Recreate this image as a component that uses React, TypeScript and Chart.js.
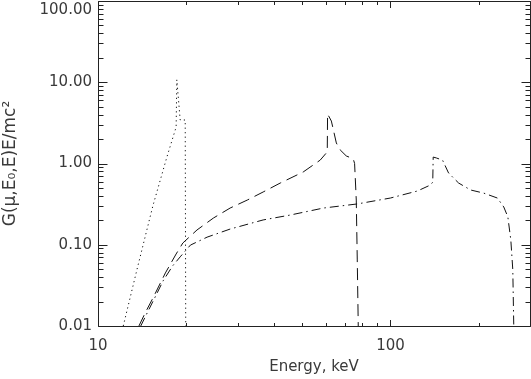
import React, { useEffect, useRef } from "react";
import { Chart, registerables } from "chart.js";

Chart.register(...registerables);

// ---- axis ranges & ticks ----
const X_MIN = 10;
const X_MAX = 300;
const Y_MIN = 0.01;
const Y_MAX = 100;
const X_TICKS = [10, 20, 30, 40, 50, 60, 70, 80, 90, 100, 200, 300];
const X_MAJOR = [10, 100];
const X_LABELS = ["10", "100"];
const Y_MAJOR = [0.01, 0.1, 1, 10, 100];
const Y_LABELS = ["0.01", "0.10", "1.00", "10.00", "100.00"];
const Y_MINOR_MULT = [2, 3, 4, 5, 6, 7, 8, 9];

const X_TITLE = "Energy, keV";
const Y_TITLE = "G(μ,E₀,E)E/mc²";

// ---- series (energy keV, G E/mc^2) ----
const DOTTED_E = [12.2, 13.6, 15.4, 17.2, 18.5, 18.6, 19.1, 19.87, 19.95];
const DOTTED_G = [0.01, 0.05, 0.3, 1.2, 2.81, 10.7, 3.43, 3.43, 0.01];

const DASHED_E = [13.8, 14.5, 15.5, 17.0, 18.5, 19.5, 21.8, 24.8, 28.3, 32.4, 36.7, 42.0, 50.3, 57.5, 60.8, 60.95, 62.8, 65.3, 67.3, 70.6, 74.6, 75.4, 76.4, 77.0, 77.6];
const DASHED_G = [0.01, 0.0145, 0.023, 0.045, 0.077, 0.105, 0.152, 0.213, 0.283, 0.355, 0.446, 0.575, 0.786, 1.1, 1.39, 4.07, 3.33, 1.79, 1.47, 1.24, 1.14, 1.0, 0.355, 0.065, 0.01];

const DASHDOT_E = [14.0, 14.8, 15.8, 16.7, 18.0, 19.1, 20.7, 23.6, 28.3, 36.7, 45.4, 59.0, 77.1, 100, 123.7, 137, 139.5, 140, 143.5, 150.7, 158, 171, 188, 208, 232, 244, 252, 258, 262, 264];
const DASHDOT_G = [0.01, 0.015, 0.024, 0.036, 0.055, 0.071, 0.099, 0.124, 0.156, 0.202, 0.232, 0.283, 0.318, 0.376, 0.459, 0.544, 0.59, 1.2, 1.17, 1.1, 0.764, 0.575, 0.472, 0.433, 0.376, 0.292, 0.22, 0.114, 0.049, 0.01];

const TEXT_COLOR = "#3a3a3a";
const AXIS_COLOR = "#222222";
const FONT_FAMILY = "'DejaVu Sans', sans-serif";

const near = (a: number, b: number) => Math.abs(a - b) <= Math.abs(b) * 1e-6;

function yTickValues(): number[] {
  const out: number[] = [];
  for (let i = 0; i < Y_MAJOR.length; i++) {
    out.push(Y_MAJOR[i]);
    if (i < Y_MAJOR.length - 1) {
      for (const m of Y_MINOR_MULT) out.push(+(Y_MAJOR[i] * m).toPrecision(6));
    }
  }
  return out;
}
const Y_TICKS = yTickValues();

const toPoints = (xs: number[], ys: number[]) => xs.map((x, i) => ({ x, y: ys[i] }));

const framePlugin = {
  id: "idlFrame",
  afterDraw(chart: any) {
    const { ctx, chartArea } = chart;
    const xs = chart.scales.x;
    const ys = chart.scales.y;
    const l = Math.round(chartArea.left) + 0.5;
    const r = Math.round(chartArea.right) + 0.5;
    const t = Math.round(chartArea.top) + 0.5;
    const b = Math.round(chartArea.bottom) + 0.5;
    ctx.save();
    ctx.strokeStyle = AXIS_COLOR;
    ctx.lineWidth = 1;
    ctx.setLineDash([]);
    ctx.beginPath();
    ctx.rect(l, t, r - l, b - t);
    // x ticks (bottom & top, inward)
    for (const v of X_TICKS) {
      const px = Math.round(xs.getPixelForValue(v)) + 0.5;
      const len = X_MAJOR.some((m) => near(v, m)) ? 6.5 : 3.5;
      ctx.moveTo(px, b);
      ctx.lineTo(px, b - len);
      ctx.moveTo(px, t);
      ctx.lineTo(px, t + len);
    }
    // y ticks (left & right, inward)
    for (const v of Y_TICKS) {
      const py = Math.round(ys.getPixelForValue(v)) + 0.5;
      const len = Y_MAJOR.some((m) => near(v, m)) ? 9 : 5;
      ctx.moveTo(l, py);
      ctx.lineTo(l + len, py);
      ctx.moveTo(r, py);
      ctx.lineTo(r - len, py);
    }
    ctx.stroke();
    ctx.restore();
  },
};

export default function App() {
  const ref = useRef<HTMLCanvasElement | null>(null);

  useEffect(() => {
    if (!ref.current) return;
    const tickFont = { family: FONT_FAMILY, size: 15 };
    const lineBase = {
      showLine: true,
      pointRadius: 0,
      borderColor: "#111111",
      borderWidth: 1,
      tension: 0,
      fill: false,
    };
    const chart = new Chart(ref.current, {
      type: "scatter",
      data: {
        datasets: [
          { ...lineBase, label: "E0 = 20 keV", data: toPoints(DOTTED_E, DOTTED_G), borderDash: [1.2, 3.3] },
          { ...lineBase, label: "E0 = 80 keV", data: toPoints(DASHED_E, DASHED_G), borderDash: [12, 6] },
          { ...lineBase, label: "E0 = 270 keV", data: toPoints(DASHDOT_E, DASHDOT_G), borderDash: [9, 4, 1.5, 4] },
        ],
      },
      options: {
        animation: false,
        responsive: false,
        devicePixelRatio: 1,
        events: [],
        layout: { padding: { top: 1, right: 1, left: 0, bottom: 0 } },
        plugins: { legend: { display: false }, tooltip: { enabled: false }, title: { display: false } },
        scales: {
          x: {
            type: "logarithmic",
            position: "bottom",
            min: X_MIN,
            max: X_MAX,
            grid: { display: false, drawTicks: false },
            border: { display: false },
            afterBuildTicks: (s: any) => {
              s.ticks = X_TICKS.map((v) => ({ value: v }));
            },
            afterFit: (s: any) => {
              s.height = 53;
              s.paddingLeft = 0;
              s.paddingRight = 0;
            },
            ticks: {
              autoSkip: false,
              maxRotation: 0,
              minRotation: 0,
              padding: 11,
              color: TEXT_COLOR,
              font: tickFont,
              callback: (v: any) => {
                const i = X_MAJOR.findIndex((m) => near(Number(v), m));
                return i >= 0 ? X_LABELS[i] : "";
              },
            },
            title: {
              display: true,
              text: X_TITLE,
              color: TEXT_COLOR,
              font: { family: FONT_FAMILY, size: 15 },
              padding: { top: 0, bottom: 3 },
            },
          },
          y: {
            type: "logarithmic",
            position: "left",
            min: Y_MIN,
            max: Y_MAX,
            grid: { display: false, drawTicks: false },
            border: { display: false },
            afterBuildTicks: (s: any) => {
              s.ticks = Y_TICKS.map((v) => ({ value: v }));
            },
            afterFit: (s: any) => {
              s.width = 98;
              s.paddingTop = 0;
              s.paddingBottom = 0;
            },
            ticks: {
              autoSkip: false,
              padding: 6,
              color: TEXT_COLOR,
              font: tickFont,
              callback: (v: any) => {
                const i = Y_MAJOR.findIndex((m) => near(Number(v), m));
                if (i < 0) return "";
                if (i === Y_MAJOR.length - 1) return ["", Y_LABELS[i]];
                return Y_LABELS[i];
              },
            },
            title: {
              display: true,
              text: Y_TITLE,
              color: TEXT_COLOR,
              font: { family: FONT_FAMILY, size: 17 },
              padding: { top: 0, bottom: 0 },
            },
          },
        },
      },
      plugins: [framePlugin],
    } as any);
    return () => chart.destroy();
  }, []);

  return (
    <div style={{ position: "fixed", left: 0, top: 0, width: 531, height: 379, background: "#ffffff" }}>
      <canvas ref={ref} width={531} height={379} style={{ display: "block", width: 531, height: 379 }} />
    </div>
  );
}
